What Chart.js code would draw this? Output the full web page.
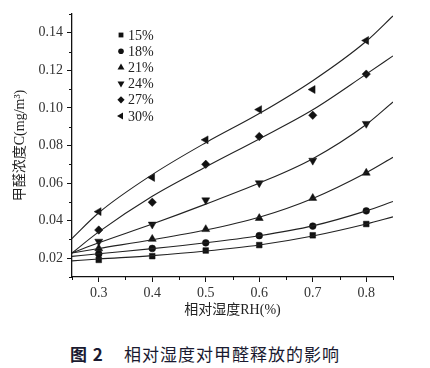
<!DOCTYPE html>
<html>
<head>
<meta charset="utf-8">
<script src="https://cdn.jsdelivr.net/npm/chart.js@4"></script>
<style>
  html, body { margin: 0; padding: 0; background: #fff; }
  #wrap { position: relative; width: 430px; height: 368px; }
  #caption {
    position: absolute; left: 70px; top: 344px;
    font-family: "Noto Sans CJK SC", sans-serif; font-size: 17px; line-height: 20px;
    color: #1a1a30; letter-spacing: 1px; white-space: nowrap;
  }
  #caption b { margin-right: 20px; }
</style>
</head>
<body>
<div id="wrap">
  <canvas id="chart" width="430" height="330"></canvas>
  <div id="caption"><b>图 2</b>相对湿度对甲醛释放的影响</div>
</div>
<script>
// measured points (RH vs formaldehyde concentration)
const rh = [0.3, 0.4, 0.5, 0.6, 0.7, 0.8];
const seriesNames = ["15%", "18%", "21%", "24%", "27%", "30%"];
const c15 = [0.0191, 0.0211, 0.0241, 0.0270, 0.0322, 0.0382];
const c18 = [0.0223, 0.0252, 0.0282, 0.0320, 0.0371, 0.0452];
const c21 = [0.0252, 0.0302, 0.0354, 0.0413, 0.0520, 0.0654];
const c24 = [0.0289, 0.0380, 0.0509, 0.0600, 0.0720, 0.0916];
const c27 = [0.0350, 0.0498, 0.0700, 0.0848, 0.0961, 0.1180];
const c30 = [0.0448, 0.0630, 0.0830, 0.0991, 0.1098, 0.1359];

// fitted curves
const fitX = [0.25, 0.3, 0.4, 0.5, 0.6, 0.7, 0.8, 0.85];
const fit15 = [0.0186, 0.0196, 0.0214, 0.0238, 0.0270, 0.0318, 0.0382, 0.0420];
const fit18 = [0.0210, 0.0224, 0.0251, 0.0282, 0.0320, 0.0372, 0.0452, 0.0502];
const fit21 = [0.0228, 0.0252, 0.0298, 0.0350, 0.0418, 0.0518, 0.0655, 0.0737];
const fit24 = [0.0228, 0.0282, 0.0382, 0.0488, 0.0600, 0.0730, 0.0912, 0.1032];
const fit27 = [0.0228, 0.0340, 0.0530, 0.0686, 0.0835, 0.0990, 0.1180, 0.1277];
const fit30 = [0.0305, 0.0442, 0.0645, 0.0815, 0.0970, 0.1145, 0.1355, 0.1490];

const yTicks = [0.02, 0.04, 0.06, 0.08, 0.10, 0.12, 0.14];
const yMinor = [0.01, 0.03, 0.05, 0.07, 0.09, 0.11, 0.13, 0.15];
const xTicks = [0.3, 0.4, 0.5, 0.6, 0.7, 0.8];
const xMinor = [0.25, 0.35, 0.45, 0.55, 0.65, 0.75, 0.85];

const measured = [c15, c18, c21, c24, c27, c30];
const fits = [fit15, fit18, fit21, fit24, fit27, fit30];
const styles = ["rect", "circle", "triangle", "triangle", "rectRot", "triangle"];
const rotations = [0, 0, 0, 180, 0, -90];
const radii = [4, 3.4, 4.6, 4.6, 4.2, 4.6];

const serif = "'Liberation Serif', 'Noto Sans CJK SC', serif";
const ink = "#111";

const datasets = [];
fits.forEach((f, i) => {
  datasets.push({
    label: seriesNames[i] + " fit",
    data: fitX.map((x, k) => ({ x: x, y: f[k] })),
    showLine: true,
    borderColor: "#222",
    borderWidth: 1.1,
    pointRadius: 0,
    cubicInterpolationMode: "monotone",
    fill: false
  });
});
measured.forEach((m, i) => {
  datasets.push({
    label: seriesNames[i],
    data: rh.map((x, k) => ({ x: x, y: m[k] })),
    showLine: false,
    pointStyle: styles[i],
    rotation: rotations[i],
    pointRadius: radii[i],
    backgroundColor: ink,
    borderColor: ink,
    borderWidth: 0.5
  });
});

function drawMarker(ctx, style, rot, x, y, r) {
  ctx.save();
  ctx.translate(x, y);
  ctx.rotate(rot * Math.PI / 180);
  ctx.beginPath();
  if (style === "circle") {
    ctx.arc(0, 0, r, 0, Math.PI * 2);
  } else if (style === "rect") {
    const s = r * Math.SQRT1_2;
    ctx.rect(-s, -s, 2 * s, 2 * s);
  } else if (style === "rectRot") {
    ctx.moveTo(0, -r); ctx.lineTo(r, 0); ctx.lineTo(0, r); ctx.lineTo(-r, 0);
  } else {
    for (let k = 0; k < 3; k++) {
      const a = k * 2 * Math.PI / 3;
      const px = Math.sin(a) * r, py = -Math.cos(a) * r;
      if (k === 0) ctx.moveTo(px, py); else ctx.lineTo(px, py);
    }
  }
  ctx.closePath();
  ctx.fillStyle = ink;
  ctx.fill();
  ctx.restore();
}

const extras = {
  id: "extras",
  afterDraw(chart) {
    const ctx = chart.ctx;
    const xs = chart.scales.x, ys = chart.scales.y;
    const area = chart.chartArea;
    ctx.save();
    ctx.strokeStyle = ink;
    ctx.lineWidth = 1;
    // minor ticks
    yMinor.forEach(v => {
      const py = Math.round(ys.getPixelForValue(v)) + 0.5;
      ctx.beginPath(); ctx.moveTo(area.left - 3, py); ctx.lineTo(area.left, py); ctx.stroke();
    });
    xMinor.forEach(v => {
      const px = Math.round(xs.getPixelForValue(v)) + 0.5;
      ctx.beginPath(); ctx.moveTo(px, area.bottom); ctx.lineTo(px, area.bottom + 3); ctx.stroke();
    });
    // legend inside plot
    ctx.font = "14px " + serif;
    ctx.textBaseline = "middle";
    seriesNames.forEach((name, i) => {
      const y = area.top + 21 + i * 16.2;
      const x = area.left + 49;
      drawMarker(ctx, styles[i], rotations[i], x, y, radii[i] - 0.6);
      ctx.fillStyle = "#222";
      ctx.fillText(name, x + 7, y + 1);
    });
    ctx.restore();
  }
};

new Chart(document.getElementById("chart").getContext("2d"), {
  type: "scatter",
  data: { datasets: datasets },
  options: {
    responsive: false,
    animation: false,
    devicePixelRatio: 1,
    layout: { padding: { top: 14, right: 37, left: 0, bottom: 0 } },
    plugins: { legend: { display: false }, tooltip: { enabled: false } },
    scales: {
      x: {
        type: "linear",
        min: 0.25,
        max: 0.85,
        afterBuildTicks: s => { s.ticks = xTicks.map(v => ({ value: v })); },
        afterFit: s => { s.height = 53; },
        grid: { drawOnChartArea: false, tickLength: 5, tickColor: ink, tickWidth: 1 },
        border: { color: ink, width: 1.3 },
        ticks: {
          padding: 3,
          color: "#333",
          font: { family: serif, size: 14 },
          callback: v => Number(v).toFixed(1)
        },
        title: {
          display: true,
          text: "相对湿度RH(%)",
          color: "#222",
          font: { family: serif, size: 14 },
          padding: { top: 0, bottom: 11 }
        }
      },
      y: {
        type: "linear",
        min: 0.01,
        max: 0.15,
        afterBuildTicks: s => { s.ticks = yTicks.map(v => ({ value: v })); },
        afterFit: s => { s.width = 72; },
        grid: { drawOnChartArea: false, tickLength: 5, tickColor: ink, tickWidth: 1 },
        border: { color: ink, width: 1.3 },
        ticks: {
          padding: 4,
          color: "#333",
          font: { family: serif, size: 14 },
          callback: v => Number(v).toFixed(2)
        },
        title: {
          display: true,
          text: "甲醛浓度C(mg/m³)",
          color: "#222",
          font: { family: serif, size: 14 },
          padding: { top: 12, bottom: 0 }
        }
      }
    }
  },
  plugins: [extras]
});
</script>
</body>
</html>
